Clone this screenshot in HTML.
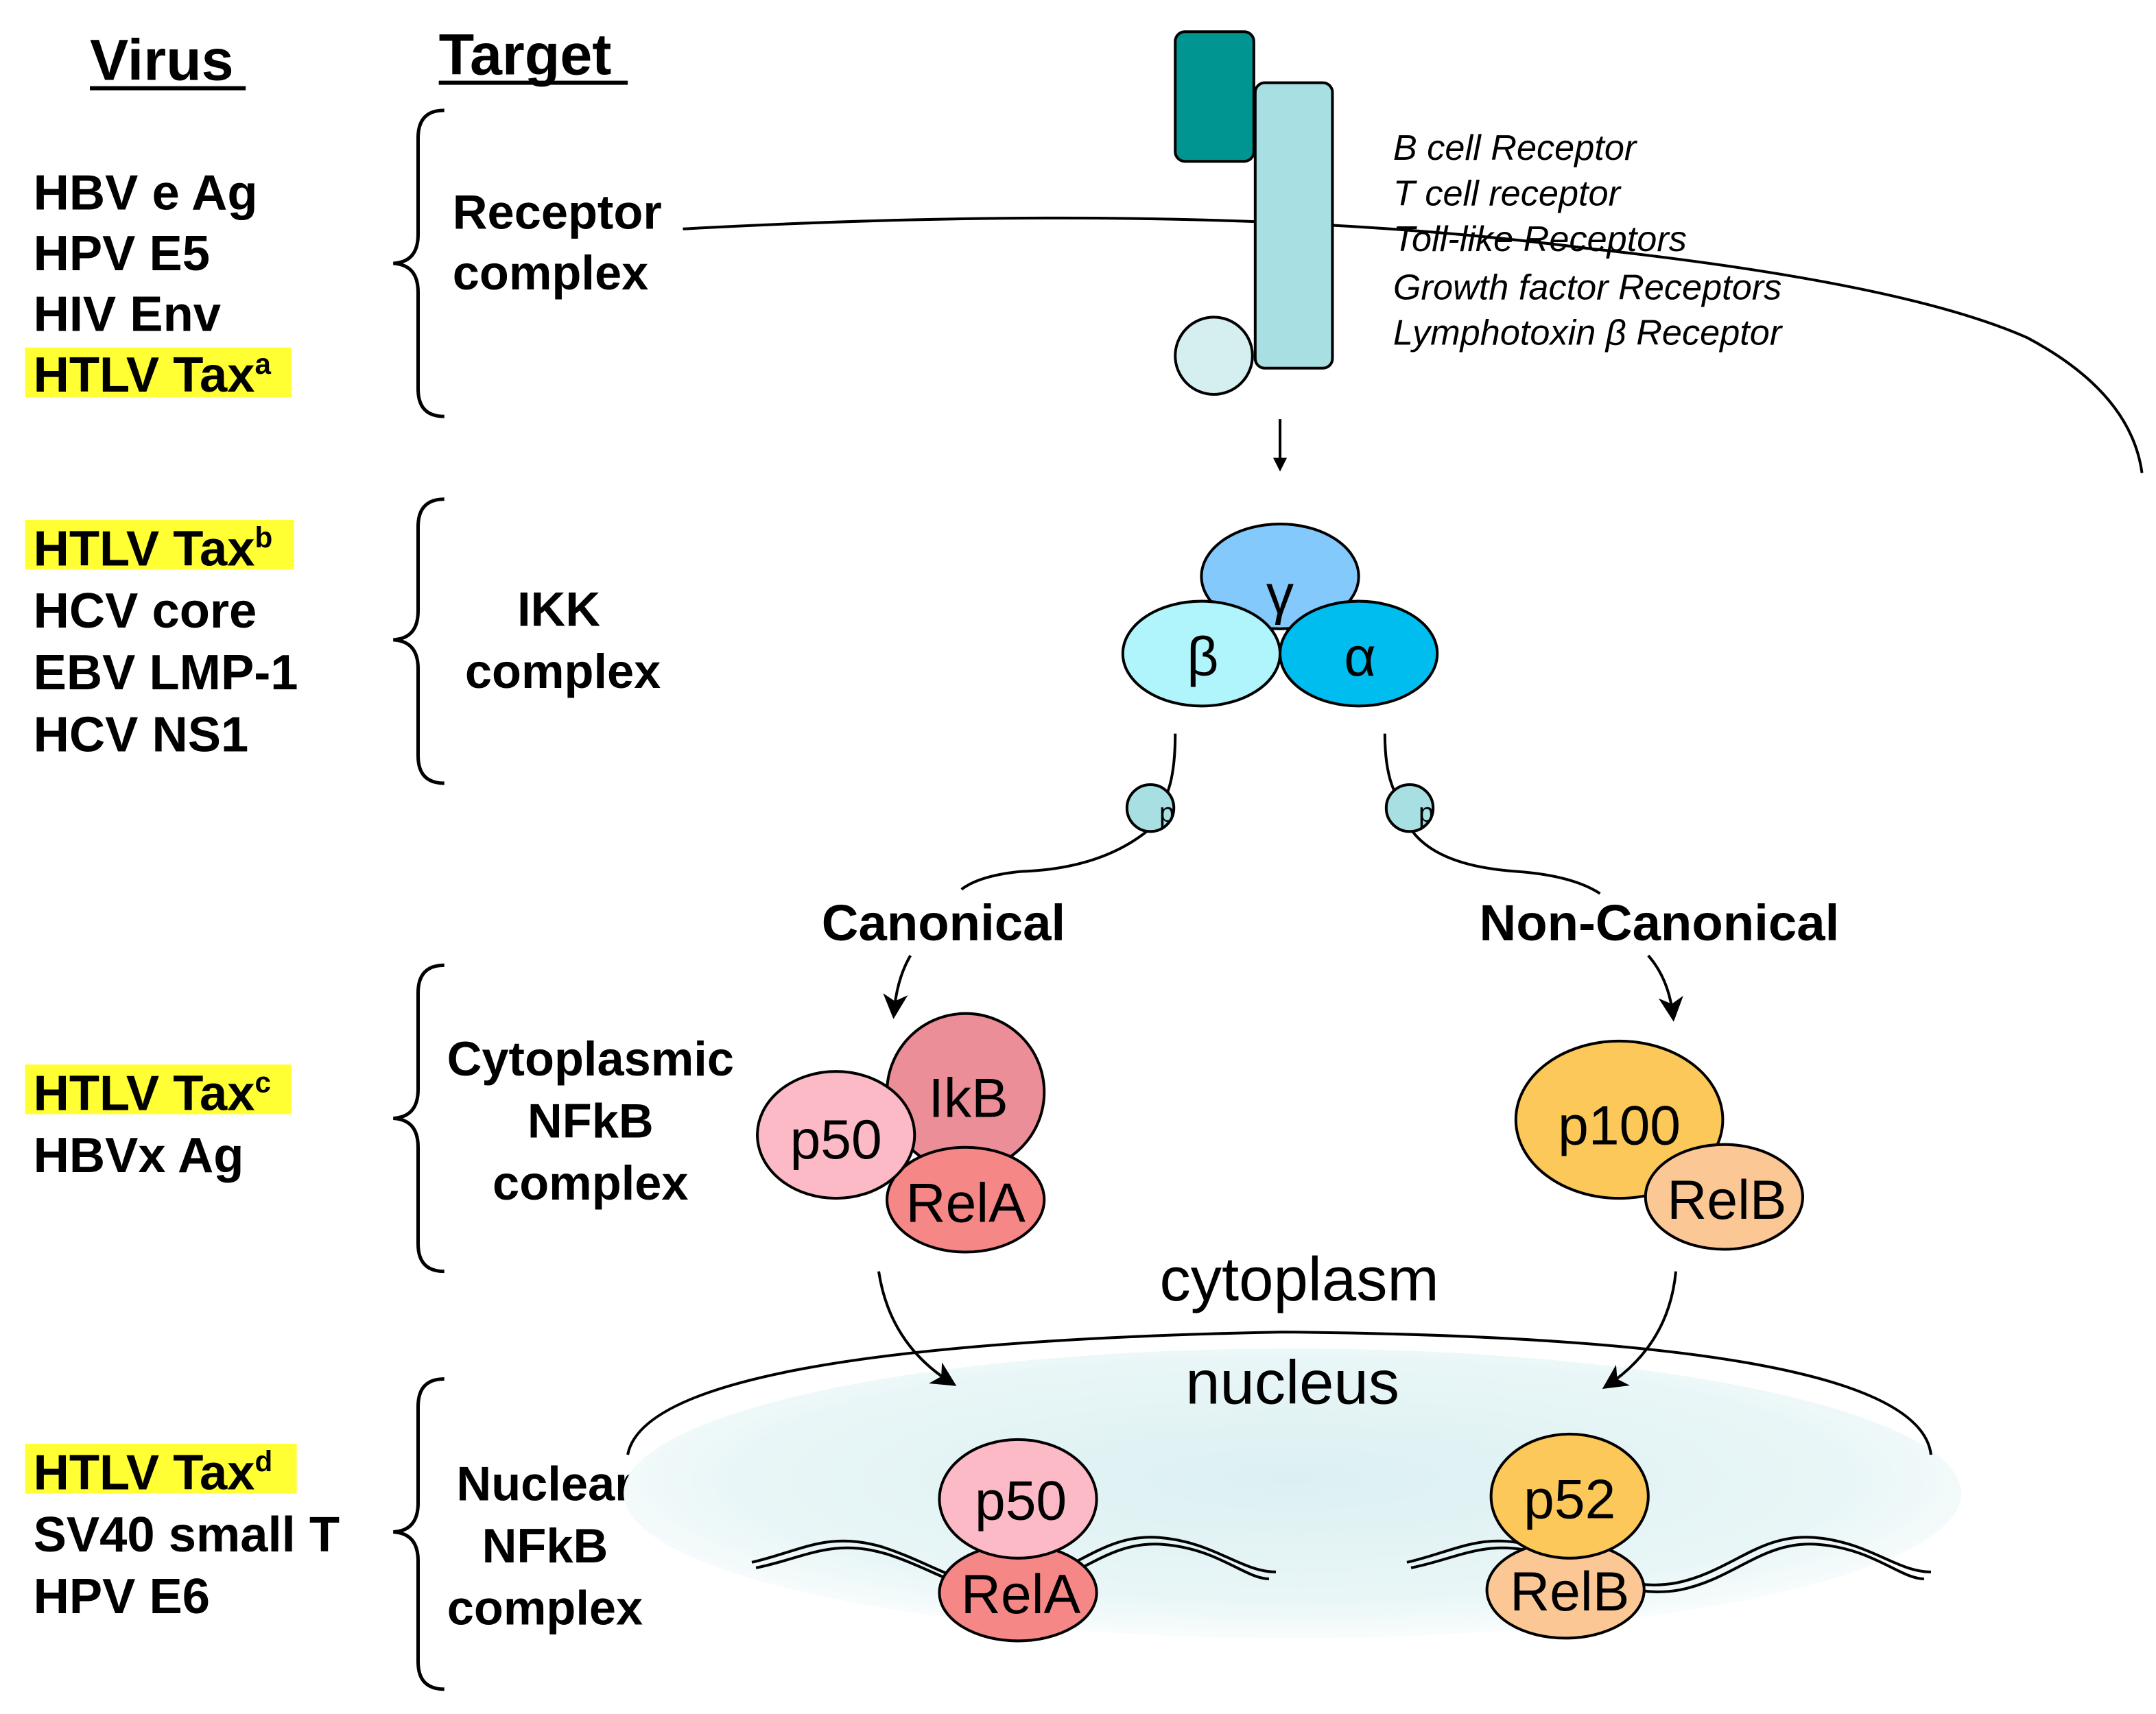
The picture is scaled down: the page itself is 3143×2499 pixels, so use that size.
<!DOCTYPE html>
<html><head><meta charset="utf-8"><style>
html,body{margin:0;padding:0;background:#fff;}
svg{display:block;}
text{font-family:"Liberation Sans",Arial,sans-serif;}
.v{font-weight:bold;font-size:36px;fill:#000;}
.t{font-weight:bold;font-size:35px;fill:#000;}
.c{font-weight:bold;font-size:37px;fill:#000;}
.i{font-style:italic;font-size:26px;fill:#000;}
.m{font-size:40px;fill:#000;}
.L{font-size:45px;fill:#000;}
</style></head><body>
<svg width="3143" height="2499" viewBox="0 0 1563 1243" xmlns="http://www.w3.org/2000/svg">
<defs>
<radialGradient id="ng" cx="0.5" cy="0.45" r="0.6">
<stop offset="0" stop-color="#dcf0f2"/><stop offset="0.7" stop-color="#e9f6f7"/><stop offset="1" stop-color="#ffffff"/>
</radialGradient>
<marker id="ah" markerWidth="10" markerHeight="10" refX="8" refY="5" orient="auto" markerUnits="userSpaceOnUse"><path d="M0,0 L10,5 L0,10 Z" fill="#000"/></marker>
<marker id="ah2" markerWidth="18" markerHeight="18" refX="14" refY="9" orient="auto" markerUnits="userSpaceOnUse"><path d="M0,0 L18,9 L0,18 L5,9 Z" fill="#000"/></marker>
</defs>

<text x="65" y="58" style="font-weight:bold;font-size:42px">Virus</text>
<line x1="65" y1="64" x2="178" y2="64" stroke="#000" stroke-width="3"/>
<text x="318" y="54" style="font-weight:bold;font-size:42px">Target</text>
<line x1="318" y1="60" x2="455" y2="60" stroke="#000" stroke-width="3"/>

<rect x="18" y="252" width="193" height="36" fill="#ffff33"/>
<rect x="18" y="377" width="195" height="36" fill="#ffff33"/>
<rect x="18" y="772" width="193" height="36" fill="#ffff33"/>
<rect x="18" y="1047" width="197" height="36" fill="#ffff33"/>

<text class="v" x="24" y="152">HBV e Ag</text>
<text class="v" x="24" y="196">HPV E5</text>
<text class="v" x="24" y="240">HIV Env</text>
<text class="v" x="24" y="284">HTLV Tax<tspan font-size="21" dy="-13">a</tspan></text>
<text class="v" x="24" y="410">HTLV Tax<tspan font-size="21" dy="-13">b</tspan></text>
<text class="v" x="24" y="455">HCV core</text>
<text class="v" x="24" y="500">EBV LMP-1</text>
<text class="v" x="24" y="545">HCV NS1</text>
<text class="v" x="24" y="805">HTLV Tax<tspan font-size="21" dy="-13">c</tspan></text>
<text class="v" x="24" y="850">HBVx Ag</text>
<text class="v" x="24" y="1080">HTLV Tax<tspan font-size="21" dy="-13">d</tspan></text>
<text class="v" x="24" y="1125">SV40 small T</text>
<text class="v" x="24" y="1170">HPV E6</text>

<g fill="none" stroke="#000" stroke-width="2.5">
<path d="M322,80 Q303,80 303,100 L303,170 Q303,190 285,191 Q303,192 303,212 L303,282 Q303,302 322,302"/>
<path d="M322,362 Q303,362 303,382 L303,443 Q303,463 285,464 Q303,465 303,485 L303,548 Q303,568 322,568"/>
<path d="M322,700 Q303,700 303,720 L303,790 Q303,810 285,811 Q303,812 303,832 L303,902 Q303,922 322,922"/>
<path d="M322,1000 Q303,1000 303,1020 L303,1090 Q303,1110 285,1111 Q303,1112 303,1132 L303,1205 Q303,1225 322,1225"/>
</g>

<text class="t" x="328" y="166">Receptor</text>
<text class="t" x="328" y="210">complex</text>
<text class="t" x="405" y="454" text-anchor="middle">IKK</text>
<text class="t" x="408" y="499" text-anchor="middle">complex</text>
<text class="t" x="428" y="780" text-anchor="middle">Cytoplasmic</text>
<text class="t" x="428" y="825" text-anchor="middle">NFkB</text>
<text class="t" x="428" y="870" text-anchor="middle">complex</text>
<text class="t" x="395" y="1088" text-anchor="middle">Nuclear</text>
<text class="t" x="395" y="1133" text-anchor="middle">NFkB</text>
<text class="t" x="395" y="1178" text-anchor="middle">complex</text>

<path d="M495,166 Q880,145 1150,180 Q1380,205 1470,245 Q1545,285 1553,343" fill="none" stroke="#000" stroke-width="2"/>

<rect x="852" y="23" width="57" height="94" rx="7" fill="#009591" stroke="#000" stroke-width="2"/>
<rect x="910" y="60" width="56" height="207" rx="7" fill="#a8dfe2" stroke="#000" stroke-width="2"/>
<circle cx="880" cy="258" r="28" fill="#d5eef0" stroke="#000" stroke-width="2"/>

<text class="i" x="1010" y="116">B cell Receptor</text>
<text class="i" x="1010" y="149">T cell receptor</text>
<text class="i" x="1010" y="182">Toll-like Receptors</text>
<text class="i" x="1010" y="217">Growth factor Receptors</text>
<text class="i" x="1010" y="250">Lymphotoxin β Receptor</text>

<line x1="928" y1="304" x2="928" y2="340" stroke="#000" stroke-width="2" marker-end="url(#ah)"/>

<ellipse cx="928" cy="418" rx="57" ry="38" fill="#84c9fb" stroke="#000" stroke-width="2"/>
<ellipse cx="871" cy="474" rx="57" ry="38" fill="#b0f5fb" stroke="#000" stroke-width="2"/>
<ellipse cx="985" cy="474" rx="57" ry="38" fill="#00bdf0" stroke="#000" stroke-width="2"/>
<text x="928" y="445" text-anchor="middle" class="m" font-size="34">γ</text>
<text x="872" y="490" text-anchor="middle" class="m">β</text>
<text x="986" y="490" text-anchor="middle" class="m">α</text>

<g fill="none" stroke="#000" stroke-width="2">
<path d="M852,532 Q852,580 835,590"/>
<path d="M835,600 Q800,630 740,632 Q710,635 697,645"/>
<path d="M1004,532 Q1004,575 1022,588"/>
<path d="M1022,600 Q1040,628 1100,632 Q1140,635 1160,648"/>
</g>
<circle cx="834" cy="586" r="17" fill="#a8dfe2" stroke="#000" stroke-width="2"/>
<circle cx="1022" cy="586" r="17" fill="#a8dfe2" stroke="#000" stroke-width="2"/>
<text x="846" y="596" font-size="20" text-anchor="middle">p</text>
<text x="1034" y="596" font-size="20" text-anchor="middle">p</text>

<text class="c" x="684" y="682" text-anchor="middle">Canonical</text>
<text class="c" x="1203" y="682" text-anchor="middle">Non-Canonical</text>

<path d="M660,693 Q650,710 648,735" fill="none" stroke="#000" stroke-width="2" marker-end="url(#ah2)"/>
<path d="M1195,693 Q1210,710 1213,737" fill="none" stroke="#000" stroke-width="2" marker-end="url(#ah2)"/>

<circle cx="700" cy="792" r="57" fill="#eb8e97" stroke="#000" stroke-width="2"/>
<ellipse cx="700" cy="870" rx="57" ry="38" fill="#f58787" stroke="#000" stroke-width="2"/>
<ellipse cx="606" cy="823" rx="57" ry="46" fill="#fcb9c6" stroke="#000" stroke-width="2"/>
<text x="702" y="810" text-anchor="middle" class="m">IkB</text>
<text x="700" y="886" text-anchor="middle" class="m">RelA</text>
<text x="606" y="840" text-anchor="middle" class="m">p50</text>

<ellipse cx="1174" cy="812" rx="75" ry="57" fill="#fdc85a" stroke="#000" stroke-width="2"/>
<ellipse cx="1250" cy="868" rx="57" ry="38" fill="#fbc795" stroke="#000" stroke-width="2"/>
<text x="1174" y="830" text-anchor="middle" class="m">p100</text>
<text x="1252" y="884" text-anchor="middle" class="m">RelB</text>

<text x="942" y="943" text-anchor="middle" class="L">cytoplasm</text>

<ellipse cx="937" cy="1083" rx="485" ry="105" fill="url(#ng)"/>
<path d="M455,1055 Q470,975 930,966 Q1390,970 1400,1055" fill="none" stroke="#000" stroke-width="2"/>
<text x="937" y="1018" text-anchor="middle" class="L">nucleus</text>

<path d="M637,922 Q645,975 690,1003" fill="none" stroke="#000" stroke-width="2" marker-end="url(#ah2)"/>
<path d="M1215,922 Q1210,975 1165,1005" fill="none" stroke="#000" stroke-width="2" marker-end="url(#ah2)"/>

<g fill="none" stroke="#000" stroke-width="2">
<path d="M545,1133 C580,1125 600,1110 640,1122 C680,1135 700,1155 740,1148 C780,1140 800,1112 840,1115 C880,1118 900,1140 925,1140"/>
<path d="M548,1137 C583,1130 603,1115 643,1127 C683,1140 703,1160 743,1153 C783,1145 803,1117 843,1120 C883,1123 903,1145 920,1145"/>
<path d="M1020,1133 C1055,1125 1075,1110 1115,1122 C1155,1135 1175,1155 1215,1148 C1255,1140 1275,1112 1315,1115 C1355,1118 1375,1140 1400,1140"/>
<path d="M1023,1137 C1058,1130 1078,1115 1118,1127 C1158,1140 1178,1160 1218,1153 C1258,1145 1278,1117 1318,1120 C1358,1123 1378,1145 1395,1145"/>
</g>

<ellipse cx="738" cy="1155" rx="57" ry="35" fill="#f58787" stroke="#000" stroke-width="2"/>
<ellipse cx="738" cy="1087" rx="57" ry="43" fill="#fcb9c6" stroke="#000" stroke-width="2"/>
<text x="740" y="1102" text-anchor="middle" class="m">p50</text>
<text x="740" y="1170" text-anchor="middle" class="m">RelA</text>

<ellipse cx="1135" cy="1153" rx="57" ry="35" fill="#fbc795" stroke="#000" stroke-width="2"/>
<ellipse cx="1138" cy="1085" rx="57" ry="45" fill="#fdc85a" stroke="#000" stroke-width="2"/>
<text x="1138" y="1101" text-anchor="middle" class="m">p52</text>
<text x="1138" y="1168" text-anchor="middle" class="m">RelB</text>
</svg>
</body></html>
